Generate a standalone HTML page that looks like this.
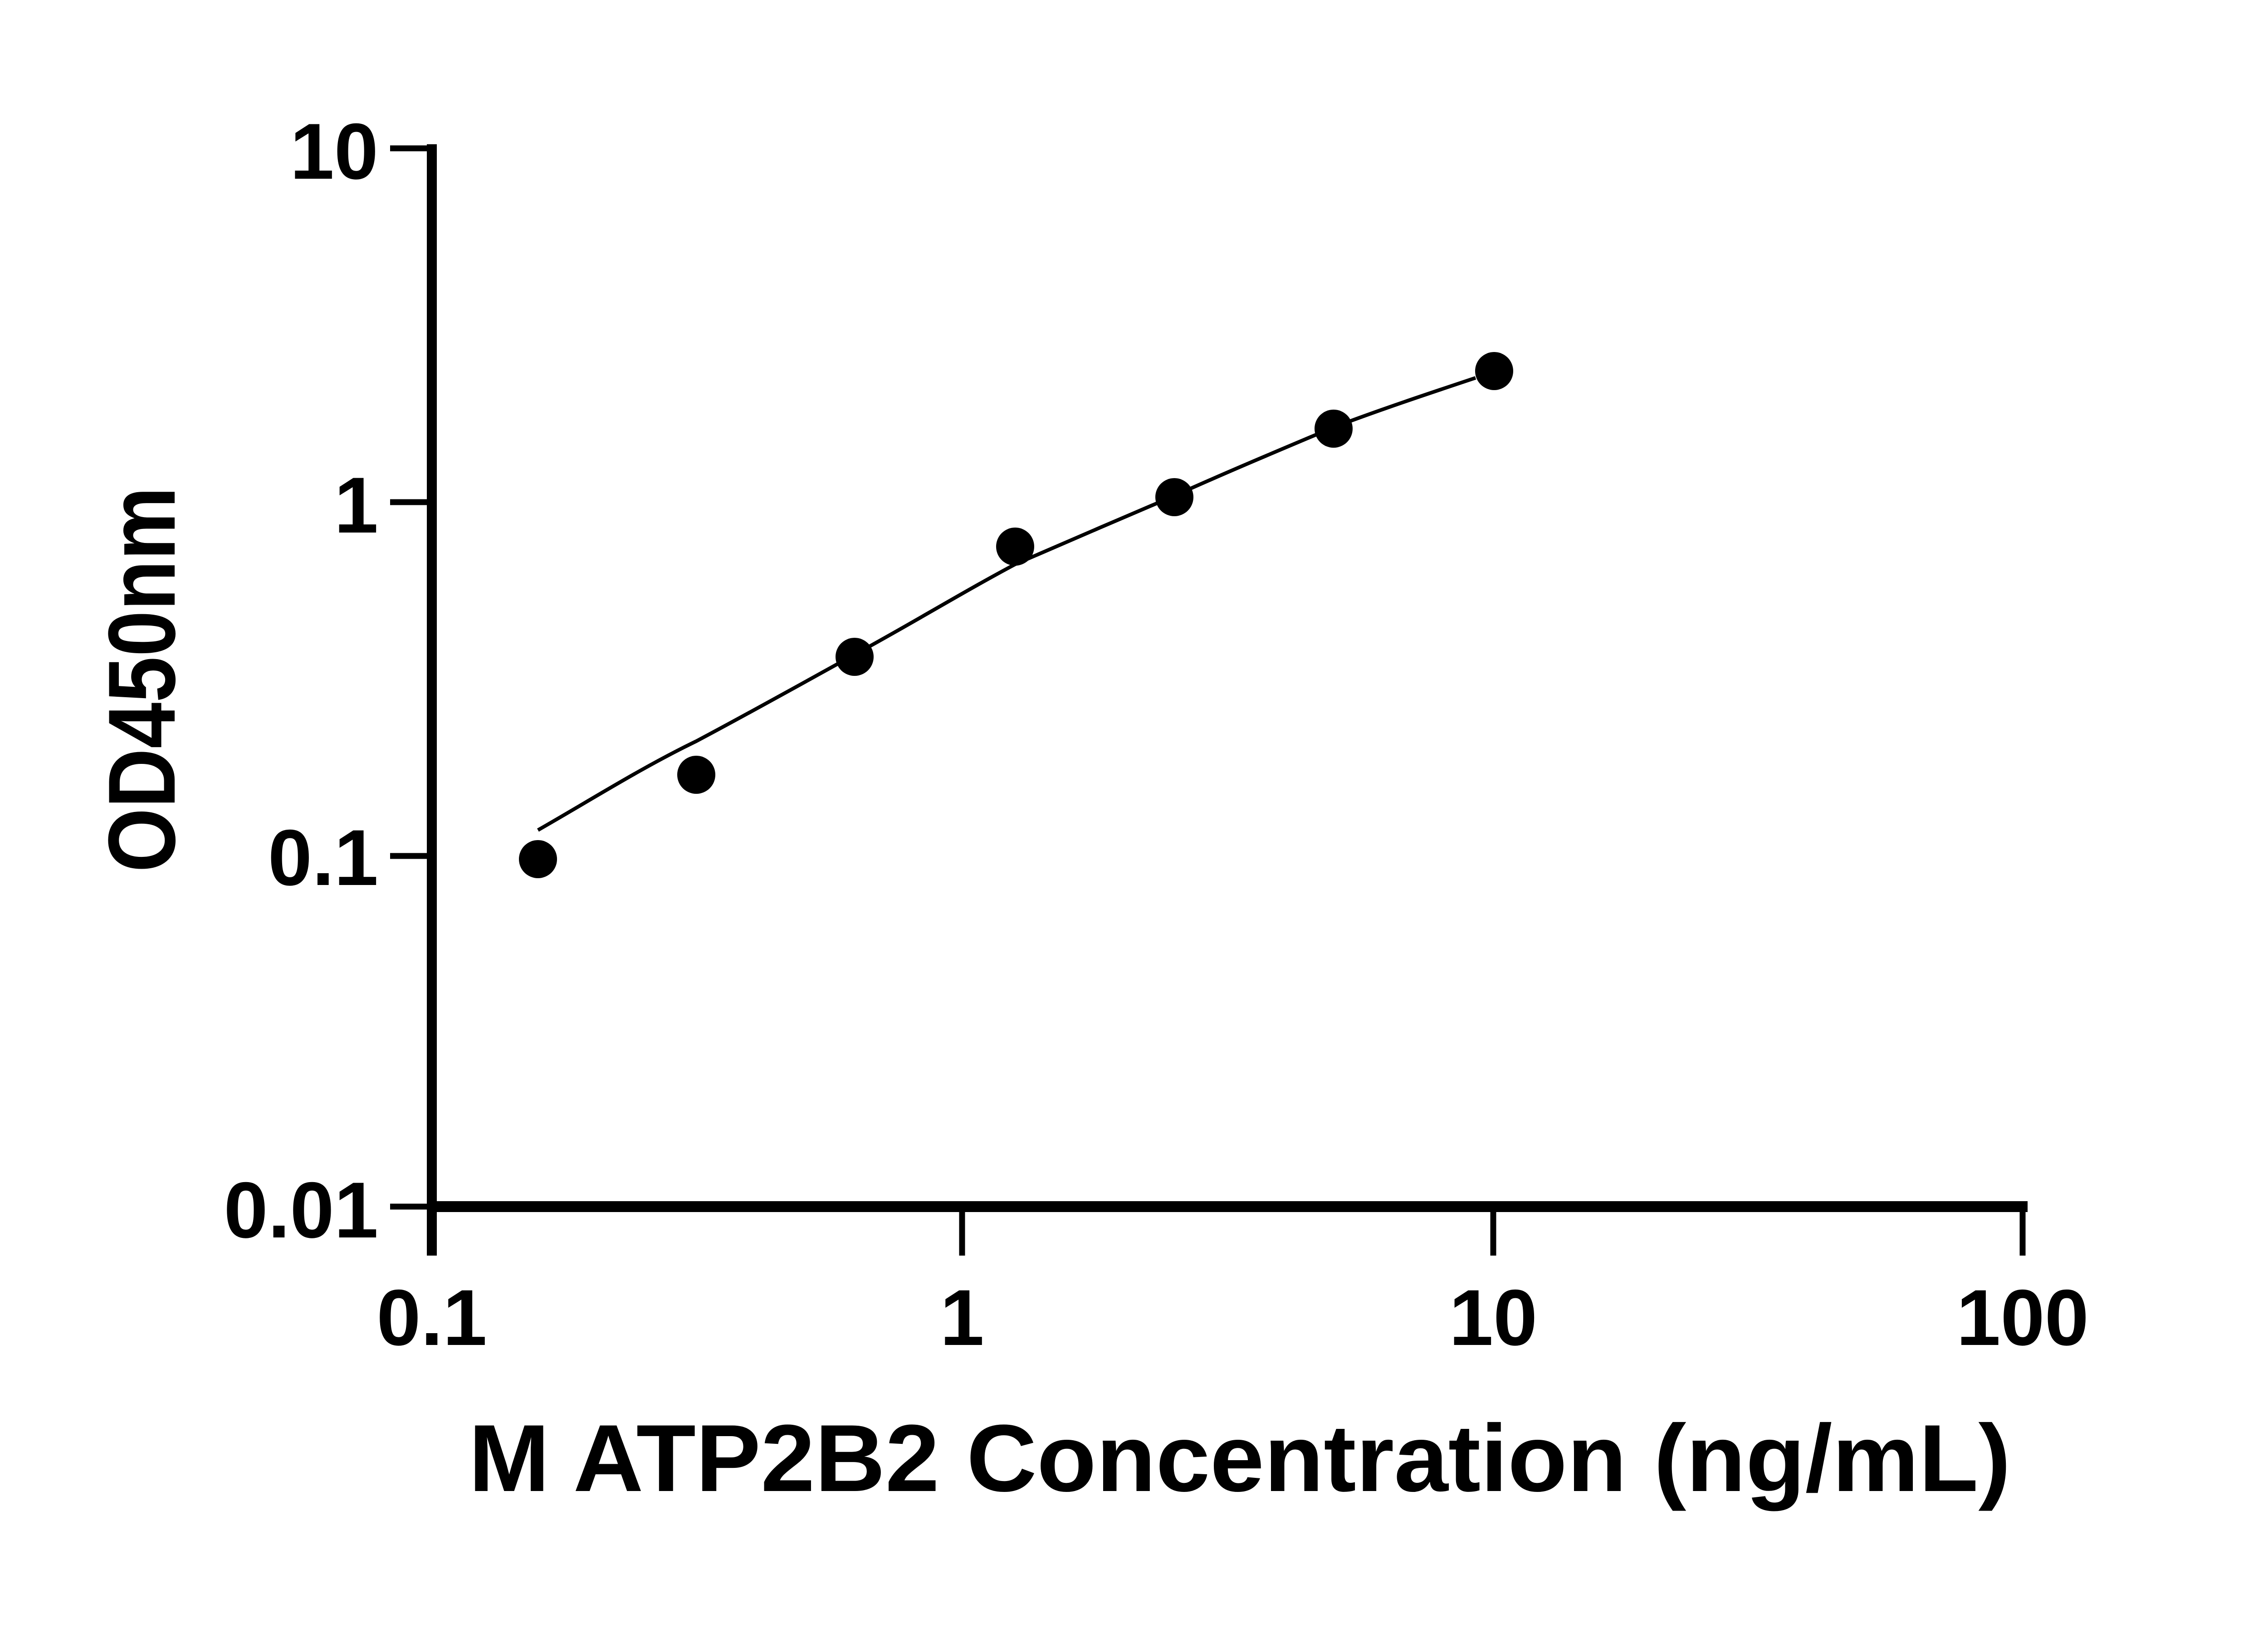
<!DOCTYPE html>
<html><head><style>html,body{margin:0;padding:0;background:#fff;}svg{display:block}</style></head>
<body>
<svg width="5130" height="3600" viewBox="0 0 5130 3600" xmlns="http://www.w3.org/2000/svg">
<rect width="5130" height="3600" fill="#fff"/>
<g stroke="#000" fill="none">
<line x1="952" y1="318" x2="952" y2="2768" stroke-width="22"/>
<line x1="941" y1="2660" x2="4470" y2="2660" stroke-width="24"/>
<line x1="860" y1="327" x2="952" y2="327" stroke-width="13"/>
<line x1="860" y1="1107" x2="952" y2="1107" stroke-width="13"/>
<line x1="860" y1="1887" x2="952" y2="1887" stroke-width="13"/>
<line x1="860" y1="2660" x2="952" y2="2660" stroke-width="13"/>
<line x1="2121" y1="2660" x2="2121" y2="2768" stroke-width="13"/>
<line x1="3292" y1="2660" x2="3292" y2="2768" stroke-width="13"/>
<line x1="4459" y1="2660" x2="4459" y2="2768" stroke-width="13"/>
<path d="M1186,1830 C1305,1762 1415,1692 1535,1634 C1652,1572 1766,1508 1884,1443 C2004,1378 2118,1308 2238,1244 C2356,1193 2471,1143 2589,1093 C2704,1041 2824,991 2940,942 C3043,903 3148,868 3253,833" stroke-width="8"/>
</g>
<g fill="#000">
<circle cx="1186" cy="1894" r="42"/>
<circle cx="1535" cy="1708" r="42"/>
<circle cx="1884" cy="1448" r="42"/>
<circle cx="2238" cy="1205" r="42"/>
<circle cx="2589" cy="1096" r="42"/>
<circle cx="2940" cy="945" r="42"/>
<circle cx="3294" cy="818" r="42"/>
</g>
<g font-family="Liberation Sans, sans-serif" font-weight="bold" font-size="175" fill="#000">
<text x="834" y="394" text-anchor="end">10</text>
<text x="834" y="1174" text-anchor="end">1</text>
<text x="834" y="1951" text-anchor="end">0.1</text>
<text x="834" y="2728" text-anchor="end">0.01</text>
<text x="952" y="2965" text-anchor="middle">0.1</text>
<text x="2121" y="2965" text-anchor="middle">1</text>
<text x="3292" y="2965" text-anchor="middle">10</text>
<text x="4459" y="2965" text-anchor="middle">100</text>
</g>
<text x="1033" y="3287" font-family="Liberation Sans, sans-serif" font-weight="bold" font-size="210" textLength="3400" lengthAdjust="spacingAndGlyphs">M ATP2B2 Concentration (ng/mL)</text>
<text transform="translate(385,1498) rotate(-90)" text-anchor="middle" font-family="Liberation Sans, sans-serif" font-weight="bold" font-size="210" textLength="850" lengthAdjust="spacingAndGlyphs">OD450nm</text>
</svg>
</body></html>
